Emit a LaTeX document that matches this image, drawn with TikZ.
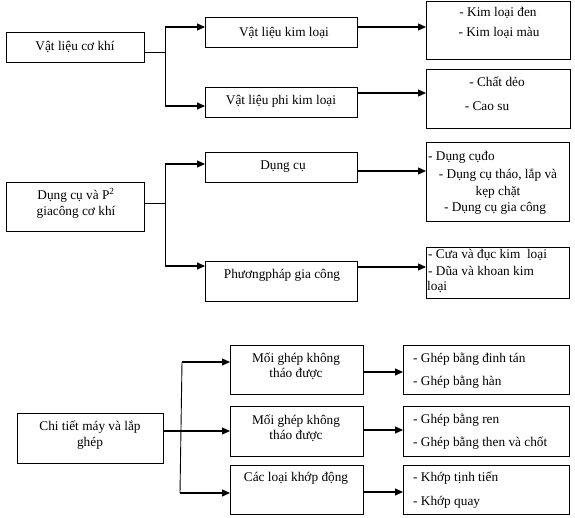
\documentclass[tikz,border=0pt]{standalone}
\usepackage{fontspec}
\setmainfont{Liberation Serif}
\usetikzlibrary{arrows.meta}
\newcommand\mkbox[5]{\node[box,minimum width=#4pt,minimum height=#5pt] (#1) at (#2,#3) {};}
\begin{document}
\begin{tikzpicture}[x=1pt,y=-1pt,
  box/.style={draw,line width=0.8pt,anchor=north west,inner sep=0pt},
  conn/.style={line width=0.9pt},
  arr/.style={line width=1.1pt,-{Triangle[length=8pt,width=7pt]}},
  txt/.style={inner sep=0pt,font=\fontsize{13.3}{16}\selectfont,align=center},
  ltxt/.style={txt,anchor=west}]
\useasboundingbox (0,0) rectangle (575,518);
% ---------- boxes ----------
\mkbox{s1}{6}{32}{138}{30}
\mkbox{vk}{205}{17}{152}{30}
\mkbox{vp}{205}{87}{152}{30}
\mkbox{r1}{426}{1}{144}{58}
\mkbox{r2}{426}{69}{144}{59}
\mkbox{s2}{6}{182}{138}{49}
\mkbox{dc}{205}{152}{152}{30}
\mkbox{pp}{205}{261}{152}{40}
\mkbox{r3}{426}{142}{143}{79}
\mkbox{r4}{426}{247}{143}{51}
\mkbox{s3}{17}{413}{146}{50}
\mkbox{ma}{230}{345}{133}{49}
\mkbox{mb}{230}{406}{133}{50}
\mkbox{mc}{230}{465}{133}{49}
\mkbox{ra}{403}{345}{166}{49}
\mkbox{rb}{403}{406}{166}{50}
\mkbox{rc}{403}{465}{166}{49}
% ---------- texts ----------
\node[txt] (t1) at (75,47) {Vật liệu cơ khí};
\node[txt] (t2) at (284,33) {Vật liệu kim loại};
\node[txt] (t3) at (281,101) {Vật liệu phi kim loại};
\node[txt] (t4) at (498,13) {- Kim loại đen};
\node[txt] (t5) at (499,33) {- Kim loại màu};
\node[txt] (t6) at (497,82) {- Chất dẻo};
\node[txt] (t7) at (487,106) {- Cao su};
\node[txt] (t8) at (76,203) {Dụng cụ và P\textsuperscript{2}\\giacông cơ khí};
\node[txt] (t9) at (283,167) {Dụng cụ};
\node[txt] (t10) at (282,275) {Phươngpháp gia công};
\node[ltxt] (t11) at (428,157) {- Dụng cụđo};
\node[txt] (t12) at (498,175) {- Dụng cụ tháo, lắp và};
\node[txt] (t13) at (498,192) {kẹp chặt};
\node[txt] (t14) at (495,208) {- Dụng cụ gia công};
\node[ltxt] (t15) at (428,255) {- Cưa và đục kim\ \ loại};
\node[ltxt] (t16) at (428,271) {- Dũa và khoan kim};
\node[ltxt] (t17) at (427,287) {loại};
\node[txt] (t18) at (90,435) {Chi tiết máy và lắp\\ghép};
\node[txt,font=\fontsize{13.3}{15}\selectfont] (t19) at (296,366) {Mối ghép không\\tháo được};
\node[txt,font=\fontsize{13.3}{15}\selectfont] (t20) at (296,428) {Mối ghép không\\tháo được};
\node[txt] (t21) at (296,478) {Các loại khớp động};
\node[ltxt] (t22) at (413,359) {- Ghép bằng đinh tán};
\node[ltxt] (t23) at (413,382) {- Ghép bằng hàn};
\node[ltxt] (t24) at (413,420) {- Ghép bằng ren};
\node[ltxt] (t25) at (413,443) {- Ghép bằng then và chốt};
\node[ltxt] (t26) at (413,478) {- Khớp tịnh tiến};
\node[ltxt] (t27) at (413,502) {- Khớp quay};
% ---------- connectors: section 1 ----------
\coordinate (j1a) at (165,27);
\coordinate (j1m) at (165,52);
\coordinate (j1b) at (165,106);
\draw[conn] (s1.east |- j1m) -- (j1m);
\draw[conn] (j1a) -- (j1b);
\draw[arr] (j1a) -- (j1a -| vk.west);
\draw[arr] (j1b) -- (j1b -| vp.west);
\coordinate (k1) at (400,27);
\coordinate (k2) at (400,93);
\draw[arr] (vk.east |- k1) -- (r1.west |- k1);
\draw[arr] (vp.east |- k2) -- (r2.west |- k2);
% ---------- section 2 ----------
\coordinate (j2a) at (165,164);
\coordinate (j2m) at (165,203);
\coordinate (j2b) at (165,266);
\draw[conn] (s2.east |- j2m) -- (j2m);
\draw[conn] (j2a) -- (j2b);
\draw[arr] (j2a) -- (j2a -| dc.west);
\draw[arr] (j2b) -- (j2b -| pp.west);
\coordinate (k3) at (400,171);
\coordinate (k4) at (400,267);
\draw[arr] (dc.east |- k3) -- (r3.west |- k3);
\draw[arr] (pp.east |- k4) -- (r4.west |- k4);
% ---------- section 3 ----------
\coordinate (j3a) at (182,362);
\coordinate (j3m) at (200,431);
\coordinate (j3b) at (180,493);
\draw[conn] (j3a) -- (j3b);
\draw[arr] (j3a) -- (j3a -| ma.west);
\draw[arr] (s3.east |- j3m) -- (mb.west |- j3m);
\draw[arr] (j3b) -- (j3b -| mc.west);
\coordinate (k5) at (380,372);
\coordinate (k6) at (380,430);
\coordinate (k7) at (380,492);
\draw[arr] (ma.east |- k5) -- (ra.west |- k5);
\draw[arr] (mb.east |- k6) -- (rb.west |- k6);
\draw[arr] (mc.east |- k7) -- (rc.west |- k7);
\end{tikzpicture}
\end{document}
